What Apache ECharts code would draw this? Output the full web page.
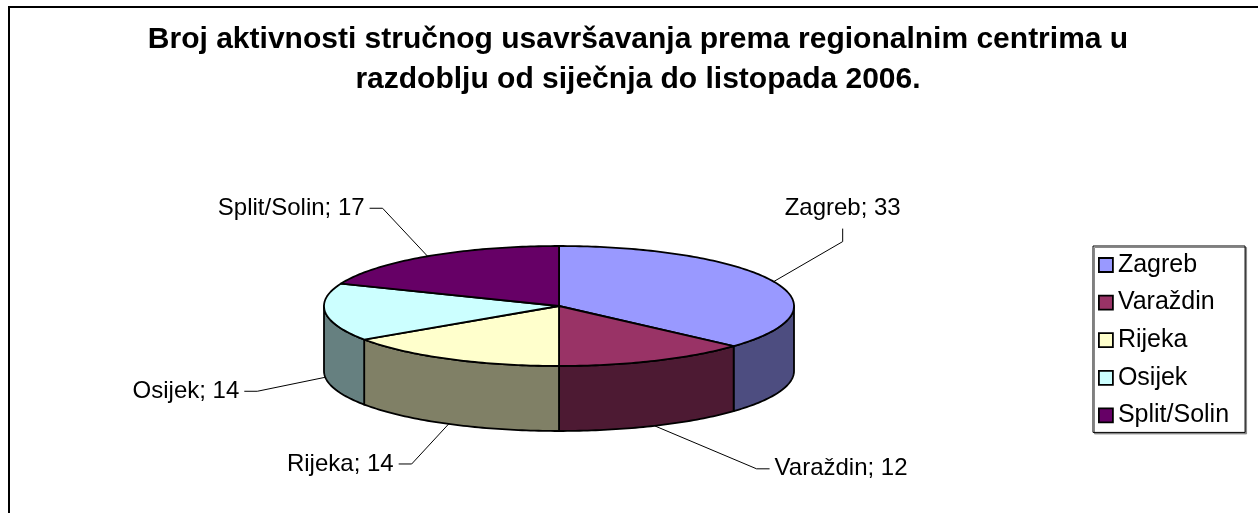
<!DOCTYPE html>
<html><head><meta charset="utf-8">
<script src="https://cdn.jsdelivr.net/npm/echarts@6/dist/echarts.min.js"></script>
<style>html,body{margin:0;padding:0;background:#fff}#c{width:1258px;height:513px}</style>
</head><body><div id="c"></div>
<script>
// ---- data ----
const categories = ['Zagreb', 'Varaždin', 'Rijeka', 'Osijek', 'Split/Solin'];
const values = [33, 12, 14, 14, 17];
const titleLines = ['Broj aktivnosti stručnog usavršavanja prema regionalnim centrima u',
                    'razdoblju od siječnja do listopada 2006.'];

// ---- style / layout ----
const FONT = 'Liberation Sans, Arial, sans-serif';
const colors = ['#9999FF', '#993366', '#FFFFCC', '#CCFFFF', '#660066'];
const sideColors = ['#4D4D80', '#4D1A33', '#808066', '#668080', '#330033'];
const pie = { cx: 559, cy: 306, rx: 235, ry: 60, depth: 65 };
const labelLayout = [
  { dx: 69, dy: -40, dir: 'up' },
  { dx: 102, dy: 43, dir: 'right' },
  { dx: -37, dy: 40, dir: 'left' },
  { dx: -68, dy: 14, dir: 'left' },
  { dx: -45, dy: -48, dir: 'left' }
];

const total = values.reduce((a, b) => a + b, 0);

function pt(theta, dy) {
  const r = theta * Math.PI / 180;
  return [pie.cx + pie.rx * Math.sin(r), pie.cy - pie.ry * Math.cos(r) + dy];
}
function arc(from, to, dy) {
  const n = Math.max(2, Math.ceil(Math.abs(to - from)) + 1);
  const out = [];
  for (let k = 0; k < n; k++) out.push(pt(from + (to - from) * k / (n - 1), dy));
  return out;
}

function makeRender(i) {
  return function (params, api) {
    const v = api.value(0);
    let before = 0;
    for (let j = 0; j < i; j++) before += values[j];
    const a0 = before / total * 360, a1 = (before + v) / total * 360;
    const children = [];
    const s = Math.max(a0, 90), e = Math.min(a1, 270);
    if (e > s) {
      children.push({
        type: 'polygon', z2: 1,
        shape: { points: arc(s, e, 0).concat(arc(e, s, pie.depth)) },
        style: { fill: sideColors[i], stroke: '#000', lineWidth: 1.8, lineJoin: 'round' }
      });
    }
    children.push({
      type: 'polygon', z2: 2,
      shape: { points: [[pie.cx, pie.cy]].concat(arc(a0, a1, 0)) },
      style: { fill: colors[i], stroke: '#000', lineWidth: 1.8, lineJoin: 'round' }
    });
    const m = (a0 + a1) / 2;
    const lower = m > 90 && m < 270;
    const at = pt(m, lower ? pie.depth : 0);
    const L = labelLayout[i];
    const el = [at[0] + L.dx, at[1] + L.dy];
    let tail, tx, ty, align, va;
    if (L.dir === 'up') { tail = [el[0], el[1] - 13]; tx = tail[0]; ty = tail[1] - 8; align = 'center'; va = 'bottom'; }
    else if (L.dir === 'left') { tail = [el[0] - 13, el[1]]; tx = tail[0] - 5; ty = tail[1]; align = 'right'; va = 'middle'; }
    else { tail = [el[0] + 13, el[1]]; tx = tail[0] + 5; ty = tail[1]; align = 'left'; va = 'middle'; }
    children.push({
      type: 'polyline', z2: 3,
      shape: { points: [at, el, tail] },
      style: { stroke: '#000', lineWidth: 1, fill: null }
    });
    children.push({
      type: 'text', z2: 4,
      style: {
        text: categories[i] + '; ' + v, x: tx, y: ty, align: align, verticalAlign: va,
        fontSize: 24, fontFamily: FONT, fill: '#000'
      }
    });
    return { type: 'group', children: children };
  };
}

const chart = echarts.init(document.getElementById('c'), null, { renderer: 'canvas' });
chart.setOption({
  animation: false,
  backgroundColor: '#fff',
  title: {
    text: titleLines.join('\n'), left: 638, top: 20, textAlign: 'center', padding: 0,
    textStyle: { fontSize: 30, fontWeight: 'bold', fontFamily: FONT, color: '#000', lineHeight: 40 }
  },
  legend: {
    orient: 'vertical', left: 1093, top: 246, padding: [6, 16, 4, 5], itemGap: 11.6,
    itemWidth: 14, itemHeight: 14, icon: 'rect',
    borderColor: '#000', borderWidth: 1, backgroundColor: '#fff',
    shadowColor: '#888', shadowOffsetX: 1.5, shadowOffsetY: 1.5, shadowBlur: 0,
    textStyle: { fontSize: 25, fontFamily: FONT, color: '#000', lineHeight: 26 },
    itemStyle: { borderColor: '#000', borderWidth: 1.8 },
    selectedMode: false,
    data: categories.map((n, i) => ({ name: n, itemStyle: { color: colors[i] } }))
  },
  graphic: [{
    type: 'rect', silent: true, z: -10,
    shape: { x: 9, y: 7, width: 1400, height: 800 },
    style: { fill: 'none', stroke: '#000', lineWidth: 2 }
  }],
  series: categories.map((n, i) => ({
    type: 'custom', name: n, coordinateSystem: 'none', silent: true,
    itemStyle: { color: colors[i] },
    data: [{ name: n, value: values[i] }],
    renderItem: makeRender(i)
  }))
});
</script></body></html>
